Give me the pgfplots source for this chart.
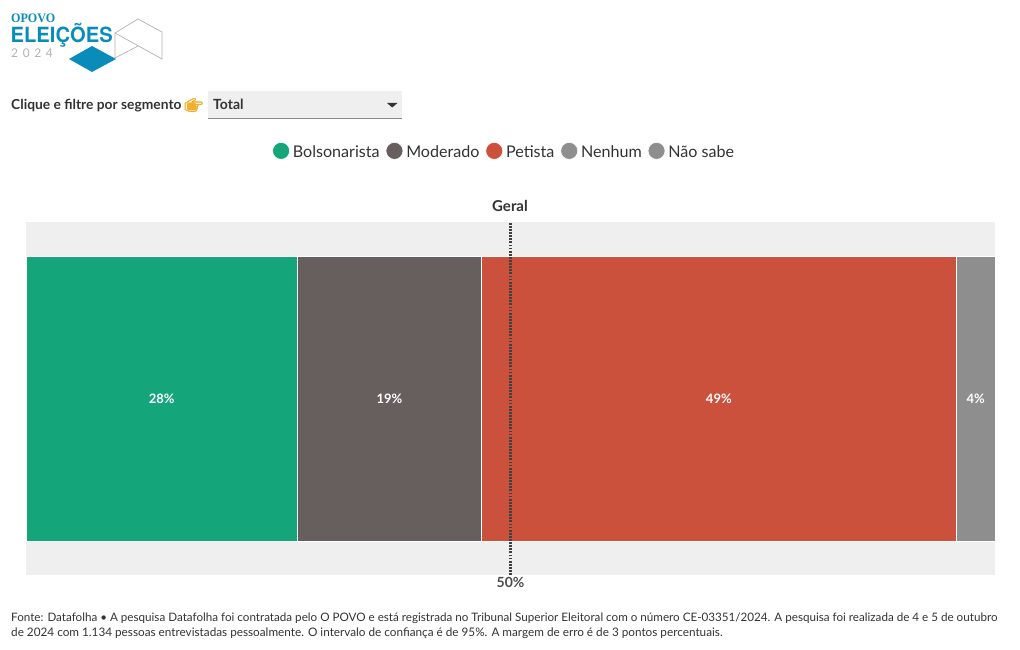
\documentclass[border=0pt]{standalone}
\usepackage{pgfplots}
\pgfplotsset{compat=1.18}
\usepackage{fontspec}
\setmainfont{Lato}
\newfontfamily\emojifont[FakeBold=3]{Noto Emoji}
\newfontfamily\serifb{Liberation Serif}
\newfontfamily\heros{TeX Gyre Heros}
\newcommand{\fs}[1]{\fontsize{#1}{#1}\selectfont}
\definecolor{cBol}{HTML}{14A57A}
\definecolor{cMod}{HTML}{665F5E}
\definecolor{cPet}{HTML}{CB513D}
\definecolor{cNen}{HTML}{8E8E8E}
\definecolor{cNao}{HTML}{8E8E8E}
\definecolor{panel}{HTML}{EFEFEF}
\definecolor{ink}{HTML}{333333}
\definecolor{logob}{HTML}{0A8CBB}
\definecolor{hand}{HTML}{F3AE2B}
\begin{document}
\begin{tikzpicture}[x=1pt,y=1pt]
\path (0,0) rectangle (1020,650);
\pgfplotsset{
  base/.style={
    at={(26pt,75pt)}, anchor=south west,
    scale only axis, width=969pt, height=353pt,
    xmin=0, xmax=100, ymin=-0.5, ymax=0.5,
  },
  circleleg/.style={legend image code/.code={\fill[##1] (0pt,2pt) circle (8.5pt);}},
}
\begin{axis}[base,
  axis background/.style={fill=panel},
  axis line style={draw=none}, ticks=none,
  xbar stacked, bar width=285pt,
  legend columns=5,
  legend cell align=left,
  legend style={draw=none, fill=none, at={(0.4925,1.2005),}, anchor=center,
    font=\fs{16.1}\color{ink}, inner sep=0pt,
    /tikz/every odd column/.append style={column sep=3pt},
    /tikz/every even column/.append style={column sep=6pt},
    nodes={inner sep=0pt, text height=12pt, text depth=3pt}},
]
\addplot[fill=cBol, draw=white, line width=0.6pt, circleleg] coordinates {(28,0)};
\addlegendentry{Bolsonarista}
\addplot[fill=cMod, draw=white, line width=0.6pt, circleleg] coordinates {(19,0)};
\addlegendentry{Moderado}
\addplot[fill=cPet, draw=white, line width=0.6pt, circleleg] coordinates {(49,0)};
\addlegendentry{Petista}
\addplot[fill=cNen, draw=white, line width=0.6pt, circleleg] coordinates {(0,0)};
\addlegendentry{Nenhum}
\addplot[fill=cNao, draw=white, line width=0.6pt, circleleg] coordinates {(4,0)};
\addlegendentry{Não sabe}
\end{axis}
\begin{axis}[base, hide axis, clip=false]
\addplot[draw=none, mark=none, nodes near coords, point meta=explicit symbolic,
  every node near coord/.append style={anchor=center, text=white, font=\fs{13}\bfseries, yshift=0pt}]
  table[x=x, y=y, meta=l, row sep=\\] {
  x y l\\
  14 0 28\%\\
  37.5 0 19\%\\
  71.5 0 49\%\\
  98 0 4\%\\
};
\addplot[draw=black!75, line width=2.2pt, dash pattern=on 1.8pt off 1.3pt, mark=none] coordinates {(50,-0.5) (50,0.5)};
\node[font=\fs{15}\bfseries, text=ink] at (axis cs:50,0.5) [yshift=16.5pt, xshift=-0.5pt] {Geral};
\node[font=\fs{14}\bfseries, text=black!70] at (axis cs:50,-0.5) [yshift=-7.5pt] {50\%};
\end{axis}
\begin{scope}[shift={(0pt,650pt)}, y=-1pt]
  % logo
  \draw[black!30, line width=0.7pt] (115,33) -- (138,19) -- (162,32) -- (162,59) -- (115,33) -- (115,58) -- (138,46);
  \fill[logob] (92,46) -- (116,59) -- (92,72) -- (69,59) -- cycle;
  \node[anchor=west, inner sep=0pt, text=logob, font=\serifb\bfseries] at (11,18.5) {\resizebox{44pt}{8.6pt}{OPOVO}};
  \node[anchor=north west, inner sep=0pt, text=logob, font=\heros\bfseries] at (10.5,23) {\resizebox*{102pt}{24pt}{ELEIÇÕES}};
  \node[anchor=west, inner sep=0pt, text=black!30, font=\fs{12}] at (11,52.8) {2\hspace{4.6pt}0\hspace{4.6pt}2\hspace{4.6pt}4};
  % filter
  \node[anchor=base west, inner sep=0pt, text=ink, font=\fs{13.8}\bfseries] at (11,110) {Clique e filtre por segmento};
  \fill[hand, rounded corners=2pt] (187,102.5) rectangle (196,110.5);
  \node[anchor=west, inner sep=0pt, text=hand, font=\emojifont\fs{15}] at (184,105) {👉};
  \fill[panel] (208,91) rectangle (402,118);
  \draw[black!45, line width=0.8pt] (208,118.5) -- (402,118.5);
  \node[anchor=base west, inner sep=0pt, text=ink, font=\fs{14}\bfseries] at (213,110) {Total};
  \fill[ink] (387,103) -- (397.5,103) -- (392.2,107.5) -- cycle;
  % footer
  \node[anchor=west, inner sep=0pt, text=ink, font=\fs{11.65}] at (11,618) {Fonte: Datafolha • A pesquisa Datafolha foi contratada pelo O POVO e está registrada no Tribunal Superior Eleitoral com o número CE-03351/2024. A pesquisa foi realizada de 4 e 5 de outubro};
  \node[anchor=west, inner sep=0pt, text=ink, font=\fs{11.75}] at (11,633) {de 2024 com 1.134 pessoas entrevistadas pessoalmente. O intervalo de confiança é de 95\%. A margem de erro é de 3 pontos percentuais.};
\end{scope}
\end{tikzpicture}
\end{document}
